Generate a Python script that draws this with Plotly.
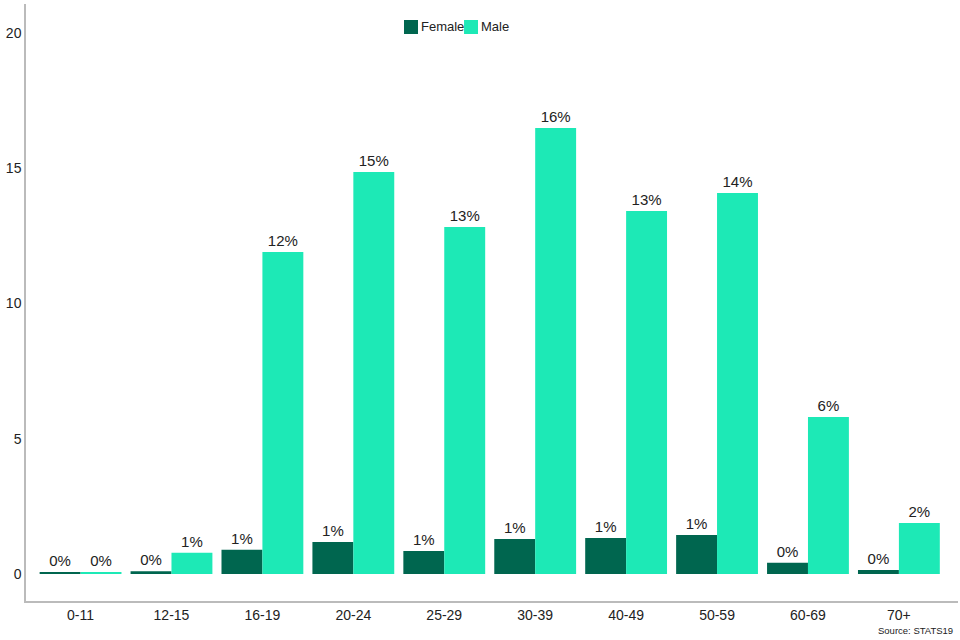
import plotly.graph_objects as go

age_groups = ["0-11", "12-15", "16-19", "20-24", "25-29", "30-39", "40-49", "50-59", "60-69", "70+"]
female_values = [0.06, 0.10, 0.89, 1.18, 0.85, 1.29, 1.33, 1.44, 0.41, 0.15]
male_values = [0.07, 0.78, 11.9, 14.86, 12.83, 16.49, 13.42, 14.08, 5.80, 1.88]
female_labels = ["0%", "0%", "1%", "1%", "1%", "1%", "1%", "1%", "0%", "0%"]
male_labels = ["0%", "1%", "12%", "15%", "13%", "16%", "13%", "14%", "6%", "2%"]
y_ticks = [0, 5, 10, 15, 20]
series_names = ["Female", "Male"]
series_colors = ["#00664f", "#1de9b6"]

FONT = "Liberation Sans, Arial, sans-serif"
TXT = "#222222"

fig = go.Figure()
for name, vals, labels, color in zip(series_names, [female_values, male_values],
                                     [female_labels, male_labels], series_colors):
    fig.add_trace(go.Bar(
        name=name, x=age_groups, y=vals, text=labels,
        textposition="outside", cliponaxis=False,
        marker=dict(color=color, line=dict(width=0)),
        textfont=dict(family=FONT, size=15, color=TXT),
    ))

# custom compact legend (squares + labels) at top centre
legend_boxes = [(0.4056, 0.4206), (0.4700, 0.4850)]
legend_text_x = [0.4217, 0.4861]
shapes = []
annotations = []
for (x0, x1), tx, name, color in zip(legend_boxes, legend_text_x, series_names, series_colors):
    shapes.append(dict(type="rect", xref="paper", yref="paper", x0=x0, x1=x1,
                       y0=0.9497, y1=0.9732, fillcolor=color, line=dict(width=0)))
    annotations.append(dict(text=name, xref="paper", yref="paper", x=tx, y=0.9615,
                            xanchor="left", yanchor="middle", showarrow=False,
                            font=dict(family=FONT, size=13, color=TXT)))
annotations.append(dict(text="Source: STATS19", xref="paper", yref="paper",
                        x=0.9968, y=-0.0486, xanchor="right", yanchor="middle", showarrow=False,
                        font=dict(family=FONT, size=9.5, color=TXT)))

fig.update_layout(
    width=960, height=640,
    margin=dict(l=26, r=2, t=4, b=39, autoexpand=False),
    paper_bgcolor="white", plot_bgcolor="white",
    barmode="group", bargap=0.1, bargroupgap=0,
    font=dict(family=FONT, size=14, color=TXT),
    showlegend=False,
    xaxis=dict(range=[-0.6, 9.65], showgrid=False, zeroline=False, showline=True,
               linecolor="#bbbbbb", linewidth=1.5, ticks="", automargin=False,
               tickfont=dict(family=FONT, size=14, color=TXT)),
    yaxis=dict(range=[-1.0, 21.07], tickvals=y_ticks, showgrid=False, zeroline=False,
               showline=True, linecolor="#bbbbbb", linewidth=1.5, ticks="", automargin=False,
               tickfont=dict(family=FONT, size=14, color=TXT)),
    shapes=shapes,
    annotations=annotations,
)

fig.write_html("out.html", config={"displayModeBar": False},
               post_script="document.body.style.margin='0';document.body.style.overflow='hidden';")
